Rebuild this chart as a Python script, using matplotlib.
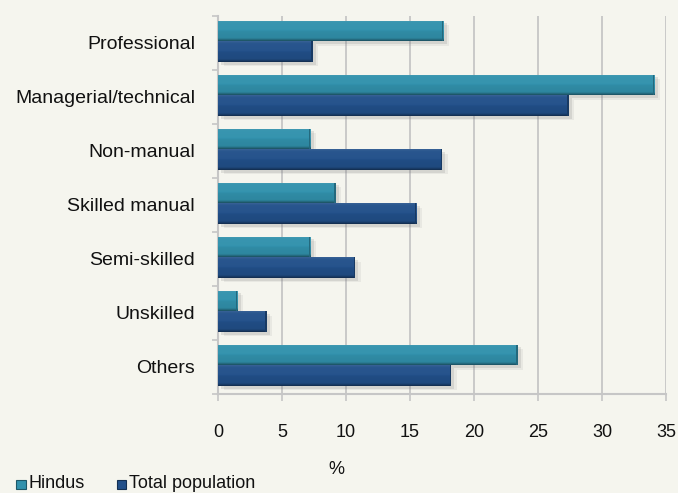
import matplotlib
matplotlib.use("Agg")
import matplotlib.pyplot as plt
import matplotlib.patheffects as pe
import numpy as np
from matplotlib import font_manager
from matplotlib.patches import Rectangle
from matplotlib.colors import to_rgb

# Occupational class distribution (%)
categories = ["Professional", "Managerial/technical", "Non-manual",
              "Skilled manual", "Semi-skilled", "Unskilled", "Others"]
hindus = [17.6, 34.1, 7.2, 9.2, 7.2, 1.5, 23.4]
total_population = [7.4, 27.4, 17.5, 15.5, 10.7, 3.8, 18.2]
series_names = ["Hindus", "Total population"]
x_ticks = [0, 5, 10, 15, 20, 25, 30, 35]
x_label = "%"

BG = "#F5F5EE"
GRID = "#C6C6C6"
TEAL = "#3292AD"
NAVY = "#22508A"

installed = {f.name for f in font_manager.fontManager.ttflist}
FONT = "Liberation Sans" if "Liberation Sans" in installed else "DejaVu Sans"
NARROW = "Liberation Sans Narrow" if "Liberation Sans Narrow" in installed else None
plt.rcParams["font.family"] = [FONT, "DejaVu Sans"]

W, H = 678, 493
fig = plt.figure(figsize=(W / 100, H / 100), dpi=100, facecolor=BG)
ax = fig.add_axes([218 / W, 1 - 393.5 / H, (666 - 218) / W, (393.5 - 15.5) / H])
ax.set_facecolor(BG)


def shade(color, f):
    r, g, b = to_rgb(color)
    if f >= 1:
        return tuple(min(1, c + (1 - c) * (f - 1)) for c in (r, g, b))
    return (r * f, g * f, b * f)


def bevel(color, n=60):
    # brightness profile from the top edge of the bar to the bottom edge
    stops_t = [0.0, 0.06, 0.12, 0.45, 0.55, 0.86, 0.93, 1.0]
    stops_f = [1.10, 1.06, 1.03, 1.02, 0.95, 0.92, 0.75, 0.55]
    t = np.linspace(0, 1, n)
    f = np.interp(t, stops_t, stops_f)
    return np.array([shade(color, v) for v in f]).reshape(n, 1, 3)


y = np.arange(len(categories))
bh = 0.385
shadow = [pe.SimplePatchShadow(offset=(4, -3), shadow_rgbFace="#909090", alpha=0.12),
          pe.SimplePatchShadow(offset=(2.5, -2), shadow_rgbFace="#707070", alpha=0.16),
          pe.Normal()]

for values, offset, color in ((hindus, -bh / 2, TEAL), (total_population, bh / 2, NAVY)):
    bars = ax.barh(y + offset - 0.02, values, height=bh, color=color,
                   zorder=3, path_effects=shadow)
    grad = bevel(color)
    for bar in bars:
        x0, y0 = bar.get_x(), bar.get_y()
        w, h = bar.get_width(), bar.get_height()
        im = ax.imshow(grad, extent=(x0, x0 + w, y0 + h, y0), origin="upper",
                       aspect="auto", zorder=4, interpolation="bilinear")
        im.set_clip_path(bar)
        # darker end cap
        cap = Rectangle((x0 + w - 0.1, y0), 0.1, h, facecolor=shade(color, 0.72),
                        edgecolor="none", zorder=5)
        ax.add_patch(cap)

ax.set_xlim(0, 35)
ax.set_ylim(len(categories) - 0.5, -0.5)

ax.set_xticks(x_ticks)
ax.set_xticklabels([str(v) for v in x_ticks], fontsize=13, color="#111111")
ax.tick_params(axis="x", length=5, width=1.2, color=GRID, pad=17, direction="out")
ax.set_yticks(y)
ax.set_yticklabels(categories, fontsize=14, color="#111111")
ax.tick_params(axis="y", which="major", length=0, pad=16.5)
ax.set_yticks(np.arange(len(categories) + 1) - 0.5, minor=True)
ax.tick_params(axis="y", which="minor", length=4, width=1.2, color=GRID, direction="out")

ax.xaxis.grid(True, color=GRID, linewidth=1.3, zorder=0)
ax.set_axisbelow(True)
for side in ("top", "right"):
    ax.spines[side].set_visible(False)
for side in ("left", "bottom"):
    ax.spines[side].set_color(GRID)
    ax.spines[side].set_linewidth(1.5)

fig.text(336 / W, 1 - 470 / H, x_label, fontsize=13, ha="center", va="center", color="#111111")

# legend along the bottom edge
legend_family = [NARROW, "DejaVu Sans"] if NARROW else [FONT, "DejaVu Sans"]
legend_size = 14.5 if NARROW else 13
for name, color, mx in zip(series_names, (TEAL, NAVY), (15.5, 116.5)):
    fig.add_artist(Rectangle((mx / W, 1 - 489 / H), 10 / W, 9.5 / H,
                             transform=fig.transFigure, facecolor=color,
                             edgecolor=shade(color, 0.6), linewidth=0.8))
    fig.text((mx + 12.5) / W, 1 - 483.5 / H, name, fontsize=legend_size, family=legend_family,
             ha="left", va="center", color="#111111")

fig.savefig("out.png", dpi=100, facecolor=BG)
